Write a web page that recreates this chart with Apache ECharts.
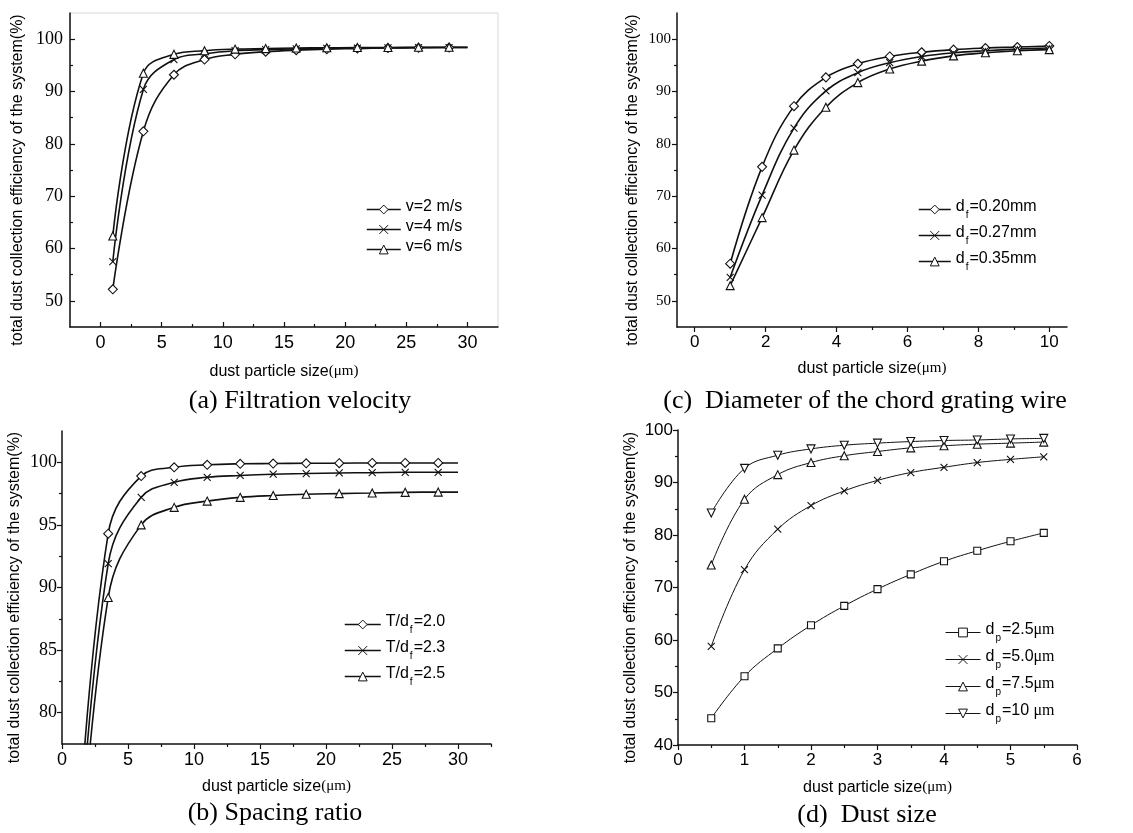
<!DOCTYPE html>
<html>
<head>
<meta charset="utf-8">
<script src="https://cdn.jsdelivr.net/npm/echarts@6/dist/echarts.min.js"></script>
<style>
html,body{margin:0;padding:0;background:#fff;}
#chart{width:1133px;height:833px;}
</style>
</head>
<body>
<div id="chart"></div>
<script>
// ---------- data ----------
// (a) Filtration velocity
const aX  = [1, 3.5, 6, 8.5, 11, 13.5, 16, 18.5, 21, 23.5, 26, 28.5, 30];
const aV2 = [52.2, 82.4, 93.2, 96.1, 97.1, 97.6, 97.9, 98.1, 98.2, 98.3, 98.35, 98.4, 98.4];
const aV4 = [57.5, 90.4, 96.1, 97.2, 97.8, 98.0, 98.15, 98.25, 98.3, 98.35, 98.4, 98.4, 98.4];
const aV6 = [62.4, 93.5, 97.1, 97.8, 98.1, 98.2, 98.3, 98.35, 98.4, 98.4, 98.45, 98.45, 98.45];
const aNames = ['v=2 m/s', 'v=4 m/s', 'v=6 m/s'];
const aXTicks = [0, 5, 10, 15, 20, 25, 30];
const aXMinor = [2.5, 7.5, 12.5, 17.5, 22.5, 27.5];
const aYTicks = [50, 60, 70, 80, 90, 100];
const aYMinor = [55, 65, 75, 85, 95];

// (b) Spacing ratio
const bX   = [1, 3.5, 6, 8.5, 11, 13.5, 16, 18.5, 21, 23.5, 26, 28.5, 30];
const bT20 = [66, 94.3, 98.9, 99.6, 99.8, 99.88, 99.9, 99.92, 99.93, 99.95, 99.95, 99.95, 99.95];
const bT23 = [64, 91.9, 97.2, 98.4, 98.8, 98.95, 99.05, 99.1, 99.15, 99.17, 99.2, 99.2, 99.2];
const bT25 = [62, 89.2, 95.0, 96.4, 96.9, 97.2, 97.35, 97.45, 97.5, 97.55, 97.6, 97.62, 97.62];
const bNames = ['T/d_f=2.0', 'T/d_f=2.3', 'T/d_f=2.5'];
const bXTicks = [0, 5, 10, 15, 20, 25, 30];
const bXMinor = [2.5, 7.5, 12.5, 17.5, 22.5, 27.5, 32.5];
const bYTicks = [80, 85, 90, 95, 100];
const bYMinor = [82.5, 87.5, 92.5, 97.5];

// (c) Diameter of the chord grating wire
const cX   = [1, 1.9, 2.8, 3.7, 4.6, 5.5, 6.4, 7.3, 8.2, 9.1, 10];
const c020 = [57.1, 75.6, 87.2, 92.7, 95.3, 96.7, 97.5, 98.0, 98.3, 98.5, 98.7];
const c027 = [54.5, 70.2, 83.0, 90.1, 93.6, 95.5, 96.7, 97.4, 97.8, 98.1, 98.3];
const c035 = [52.9, 65.9, 78.8, 87.0, 91.7, 94.3, 95.8, 96.8, 97.4, 97.8, 98.0];
const cNames = ['d_f=0.20mm', 'd_f=0.27mm', 'd_f=0.35mm'];
const cXTicks = [0, 2, 4, 6, 8, 10];
const cXMinor = [1, 3, 5, 7, 9];
const cYTicks = [50, 60, 70, 80, 90, 100];
const cYMinor = [55, 65, 75, 85, 95];

// (d) Dust size
const dX   = [0.5, 1, 1.5, 2, 2.5, 3, 3.5, 4, 4.5, 5, 5.5];
const d25  = [45.1, 53.1, 58.4, 62.8, 66.5, 69.7, 72.5, 75.0, 77.0, 78.8, 80.4];
const d50  = [58.8, 73.4, 81.1, 85.6, 88.4, 90.4, 91.9, 92.9, 93.8, 94.4, 94.9];
const d75  = [74.3, 86.8, 91.5, 93.8, 95.1, 95.9, 96.6, 97.0, 97.3, 97.5, 97.7];
const d100 = [84.2, 92.7, 95.2, 96.4, 97.1, 97.5, 97.8, 98.0, 98.1, 98.3, 98.4];
const dNames = ['d_p=2.5μm', 'd_p=5.0μm', 'd_p=7.5μm', 'd_p=10 μm'];
const dXTicks = [0, 1, 2, 3, 4, 5, 6];
const dXMinor = [0.5, 1.5, 2.5, 3.5, 4.5, 5.5];
const dYTicks = [40, 50, 60, 70, 80, 90, 100];
const dYMinor = [45, 55, 65, 75, 85, 95];

const captions = ['(a) Filtration velocity', '(b) Spacing ratio', '(c)  Diameter of the chord grating wire', '(d)  Dust size'];
const yTitle = 'total dust collection efficiency of the system(%)';
const xTitleMain = 'dust particle size';
const xTitleUnit = '(μm)';

// ---------- styling helpers ----------
const SANS = 'Liberation Sans';
const SERIF = 'Liberation Serif';
const INK = '#111';

function zip(xs, ys, lastNoSymbol) {
  return xs.map((x, i) => {
    if (lastNoSymbol && i === xs.length - 1) return { value: [x, ys[i]], symbol: 'none' };
    return [x, ys[i]];
  });
}

const richLegend = {
  n: { fontFamily: SANS, fontSize: 16, color: '#000', verticalAlign: 'bottom', padding: [0, 0, 5, 0] },
  s: { fontFamily: SANS, fontSize: 10, color: '#000', verticalAlign: 'bottom', padding: [0, 1, 0, 1] },
  u: { fontFamily: SERIF, fontSize: 16, color: '#000', verticalAlign: 'bottom', padding: [0, 0, 5, 0] }
};
function legendFmt(name) {
  let out = '';
  let m = name.match(/^(.*?)_(\w)(.*)$/);
  let pre = name, sub = '', rest = '';
  if (m) { pre = m[1]; sub = m[2]; rest = m[3]; }
  out += '{n|' + pre + '}';
  if (sub) out += '{s|' + sub + '}';
  if (rest) {
    const k = rest.indexOf('μm');
    if (k >= 0) {
      out += '{n|' + rest.slice(0, k) + '}{u|μm}';
    } else out += '{n|' + rest + '}';
  }
  return out;
}

function xAxes(grid, min, max, ticks, minor, inside, fs, nameGap, margin) {
  return [{
    type: 'value', gridIndex: grid, min: min, max: max, position: 'bottom',
    name: '{a|' + xTitleMain + '}{b|' + xTitleUnit + '}',
    nameLocation: 'middle', nameGap: nameGap,
    nameTextStyle: {
      rich: {
        a: { fontFamily: SANS, fontSize: 16, color: '#000', verticalAlign: 'bottom' },
        b: { fontFamily: SERIF, fontSize: 15, color: '#000', verticalAlign: 'bottom', padding: [0, 0, 1, 0] }
      }
    },
    axisLine: { show: true, onZero: false, lineStyle: { color: INK, width: 1.5 } },
    axisTick: { show: true, inside: inside, length: 5, customValues: ticks, lineStyle: { color: INK, width: 1.2 } },
    axisLabel: { show: true, customValues: ticks, fontFamily: SANS, fontSize: fs, color: '#000', margin: margin },
    splitLine: { show: false }
  }, {
    type: 'value', gridIndex: grid, min: min, max: max, position: 'bottom',
    axisLine: { show: false, onZero: false },
    axisTick: { show: true, inside: inside, length: 3, customValues: minor, lineStyle: { color: INK, width: 1.2 } },
    axisLabel: { show: false },
    splitLine: { show: false }
  }];
}
function yAxes(grid, min, max, ticks, minor, inside, font, fs, nameGap, margin) {
  return [{
    type: 'value', gridIndex: grid, min: min, max: max, position: 'left',
    name: yTitle, nameLocation: 'middle', nameGap: nameGap,
    nameTextStyle: { fontFamily: SANS, fontSize: 16, color: '#000', padding: [0, 20, 0, 0] },
    axisLine: { show: true, onZero: false, lineStyle: { color: INK, width: 1.5 } },
    axisTick: { show: true, inside: inside, length: 5, customValues: ticks, lineStyle: { color: INK, width: 1.2 } },
    axisLabel: { show: true, customValues: ticks, fontFamily: font, fontSize: fs, color: '#000', margin: margin },
    splitLine: { show: false }
  }, {
    type: 'value', gridIndex: grid, min: min, max: max, position: 'left',
    axisLine: { show: false, onZero: false },
    axisTick: { show: true, inside: inside, length: 3, customValues: minor, lineStyle: { color: INK, width: 1.2 } },
    axisLabel: { show: false },
    splitLine: { show: false }
  }];
}

function lineSeries(name, xi, yi, data, symbol, size, lw, rotate) {
  return {
    type: 'line', name: name, xAxisIndex: xi, yAxisIndex: yi, data: data,
    smooth: 0.4, clip: true,
    symbol: symbol, symbolSize: size, symbolRotate: rotate || 0, showAllSymbol: true,
    lineStyle: { color: INK, width: lw },
    itemStyle: { color: '#fff', borderColor: INK, borderWidth: 1.1 },
    emphasis: { disabled: true },
    z: 3
  };
}
const CROSS = 'path://M0,0L10,10M10,0L0,10';

const chart = echarts.init(document.getElementById('chart'), null, { renderer: 'canvas' });

const xAxis = [].concat(
  xAxes(0, -2.5, 32.5, aXTicks, aXMinor, true, 18, 37, 7),
  xAxes(1, 0, 32.5, bXTicks, bXMinor, false, 18, 35, 7),
  xAxes(2, -0.5, 10.5, cXTicks, cXMinor, false, 17, 34, 7),
  xAxes(3, 0, 6, dXTicks, dXMinor, false, 17, 35, 7)
);
const yAxis = [].concat(
  yAxes(0, 45, 105, aYTicks, aYMinor, true, SERIF, 18, 44, 7),
  yAxes(1, 77.5, 102.5, bYTicks, bYMinor, false, SERIF, 18, 39, 5),
  yAxes(2, 45, 105, cYTicks, cYMinor, false, SERIF, 15, 36, 6),
  yAxes(3, 40, 100, dYTicks, dYMinor, false, SANS, 17, 39, 5)
);

const series = [
  lineSeries(aNames[0], 0, 0, zip(aX, aV2, true), 'diamond', 9, 1.6),
  lineSeries(aNames[1], 0, 0, zip(aX, aV4, true), CROSS, 7, 1.6),
  lineSeries(aNames[2], 0, 0, zip(aX, aV6, true), 'triangle', 8, 1.6),

  lineSeries(bNames[0], 2, 2, zip(bX, bT20, true), 'diamond', 9, 1.6),
  lineSeries(bNames[1], 2, 2, zip(bX, bT23, true), CROSS, 7, 1.6),
  lineSeries(bNames[2], 2, 2, zip(bX, bT25, true), 'triangle', 8, 1.6),

  lineSeries(cNames[0], 4, 4, zip(cX, c020), 'diamond', 9, 1.6),
  lineSeries(cNames[1], 4, 4, zip(cX, c027), CROSS, 7, 1.6),
  lineSeries(cNames[2], 4, 4, zip(cX, c035), 'triangle', 8, 1.6),

  lineSeries(dNames[0], 6, 6, zip(dX, d25), 'rect', 7, 1),
  lineSeries(dNames[1], 6, 6, zip(dX, d50), CROSS, 7, 1),
  lineSeries(dNames[2], 6, 6, zip(dX, d75), 'triangle', 8, 1),
  lineSeries(dNames[3], 6, 6, zip(dX, d100), 'triangle', 8, 1, 180)
];

function legend(names, left, top, gap, w, lw) {
  return {
    data: names, orient: 'vertical', left: left, top: top,
    itemWidth: w, itemHeight: 11, itemGap: gap, selectedMode: false,
    formatter: legendFmt,
    itemStyle: { color: '#fff', borderColor: INK, borderWidth: 1 },
    lineStyle: { color: INK, width: lw },
    textStyle: { fontFamily: SANS, fontSize: 16, color: '#000', rich: richLegend },
    padding: 0
  };
}

const option = {
  backgroundColor: '#fff',
  animation: false,
  grid: [
    { left: 70, top: 13, width: 428, height: 314, show: true, borderColor: '#d8d8d8', borderWidth: 1, backgroundColor: 'transparent' },
    { left: 62, top: 431, width: 429, height: 313 },
    { left: 677, top: 13, width: 390, height: 314 },
    { left: 678, top: 430, width: 399, height: 315 }
  ],
  xAxis: xAxis,
  yAxis: yAxis,
  legend: [
    legend(aNames, 366, 199, 4, 34, 1.5),
    legend(bNames, 344, 614, 5, 36, 1.5),
    legend(cNames, 918, 199, 5, 32, 1.5),
    legend(dNames, 945, 622, 6, 35, 1)
  ],
  graphic: [
    { type: 'text', x: 300, y: 401, style: { text: captions[0], fontFamily: SERIF, fontSize: 26, fill: '#000', align: 'center', verticalAlign: 'middle' } },
    { type: 'text', x: 275, y: 813, style: { text: captions[1], fontFamily: SERIF, fontSize: 26, fill: '#000', align: 'center', verticalAlign: 'middle' } },
    { type: 'text', x: 865, y: 401, style: { text: captions[2], fontFamily: SERIF, fontSize: 26, fill: '#000', align: 'center', verticalAlign: 'middle' } },
    { type: 'text', x: 867, y: 815, style: { text: captions[3], fontFamily: SERIF, fontSize: 26, fill: '#000', align: 'center', verticalAlign: 'middle' } }
  ],
  series: series
};
chart.setOption(option);
</script>
</body>
</html>
